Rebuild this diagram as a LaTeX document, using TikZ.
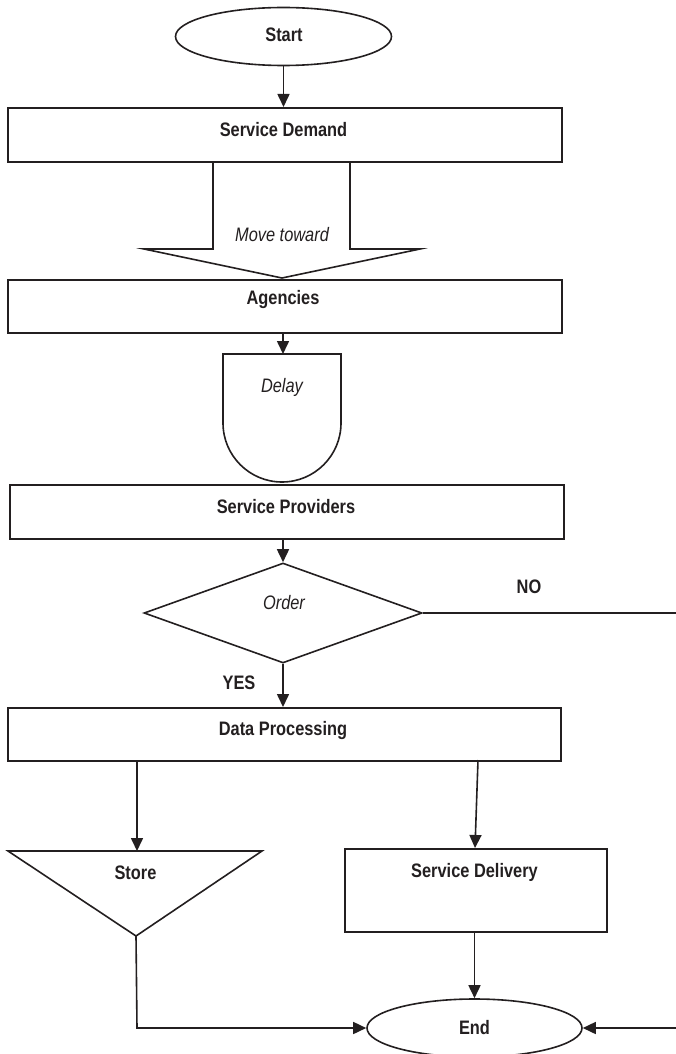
\documentclass[tikz,border=0pt]{standalone}
\usepackage{fontspec}
\setmainfont{Liberation Sans}[FakeStretch=0.84]
\usetikzlibrary{arrows.meta,shapes.geometric}
\definecolor{ink}{RGB}{35,31,32}
\begin{document}
\begin{tikzpicture}[x=1pt,y=-1pt,
  every path/.style={draw=ink, line width=1.6pt},
  box/.style={draw=ink, line width=1.6pt, rectangle, inner sep=0pt, anchor=north west},
  oval/.style={draw=ink, line width=1.6pt, ellipse, inner sep=0pt, minimum width=216pt, minimum height=58pt},
  dec/.style={draw=ink, line width=1.6pt, diamond, inner sep=0pt, minimum width=278pt, minimum height=100pt},
  bl/.style={anchor=base, font=\fontsize{19.5}{22}\selectfont\bfseries, text=ink, inner sep=0pt},
  it/.style={anchor=base, font=\fontsize{19.5}{22}\selectfont\itshape, text=ink, inner sep=0pt},
  arr/.style={-{Triangle[length=13pt,width=12pt]}, line width=1.6pt, draw=ink}]
\useasboundingbox[draw=none] (0,0) rectangle (676,1054);

% shapes
\node[oval] (start) at (283.5,36.5) {};
\node[box, minimum width=554pt, minimum height=54pt] (sd) at (7,107) {};
\node[box, minimum width=554pt, minimum height=53pt] (ag) at (7,279) {};
\node[box, minimum width=554pt, minimum height=54pt] (sp) at (9,484) {};
\node[dec] (order) at (283,613) {};
\node[box, minimum width=553pt, minimum height=53pt] (dp) at (7,707) {};
\node[box, minimum width=262pt, minimum height=83pt] (sdl) at (344,848) {};
\node[oval, minimum width=215pt] (end) at (474.5,1028) {};

% block arrow "Move toward"
\draw[line join=miter] (213,161) -- (213,249) -- (144,249) -- (282,278) -- (420,249) -- (350,249) -- (350,161);
\coordinate (mvtop) at (282,161);
\coordinate (mvtip) at (282,278);

% delay shape
\draw (223,354) -- (223,423) arc[start angle=180, end angle=0, radius=59] -- (341,354) -- cycle;
\coordinate (dltop) at (283,354);

% store (merge) triangle
\draw (8,851) -- (262,851) -- (136,936) -- cycle;
\coordinate (sttop) at (137,851);
\coordinate (stbot) at (136,936);

% texts
\node[bl] (tstart) at (284,42) {Start};
\node[bl] (tsd) at (283.5,136) {Service Demand};
\node[it] (tmv) at (282,241) {Move toward};
\node[bl] (tag) at (283,304) {Agencies};
\node[it] (tdl) at (282,392) {Delay};
\node[bl] (tsp) at (286,513) {Service Providers};
\node[it] (tor) at (284,609) {Order};
\node[bl] (tno) at (529,593) {NO};
\node[bl] (tyes) at (239,689) {YES};
\node[bl] (tdp) at (283,735) {Data Processing};
\node[bl] (tst) at (135.5,879) {Store};
\node[bl] (tsdl) at (474.5,877) {Service Delivery};
\node[bl] (tend) at (474.5,1034) {End};

% connectors
\draw[arr] (start.south) -- (start.south |- sd.north);
\draw[arr] (ag.south -| dltop) -- (dltop);
\draw[arr] (sp.south -| order.north) -- (order.north);
\draw[arr] (order.south) -- (order.south |- dp.north);
\draw[arr] (dp.south -| sttop) -- (sttop);
\coordinate (dpr) at (478,760);
\coordinate (sdlt) at (475,848);
\draw[arr] (dpr) -- (sdlt);
\draw[arr] (sdl.south -| end.north) -- (end.north);
\coordinate (sbend) at (137,1028);
\draw[arr] (stbot) -- (sbend) -- (end.west);
\coordinate (rin) at (676,1028);
\draw[arr] (rin) -- (end.east);
\coordinate (nout) at (676,613);
\draw (order.east) -- (nout);
\end{tikzpicture}
\end{document}
